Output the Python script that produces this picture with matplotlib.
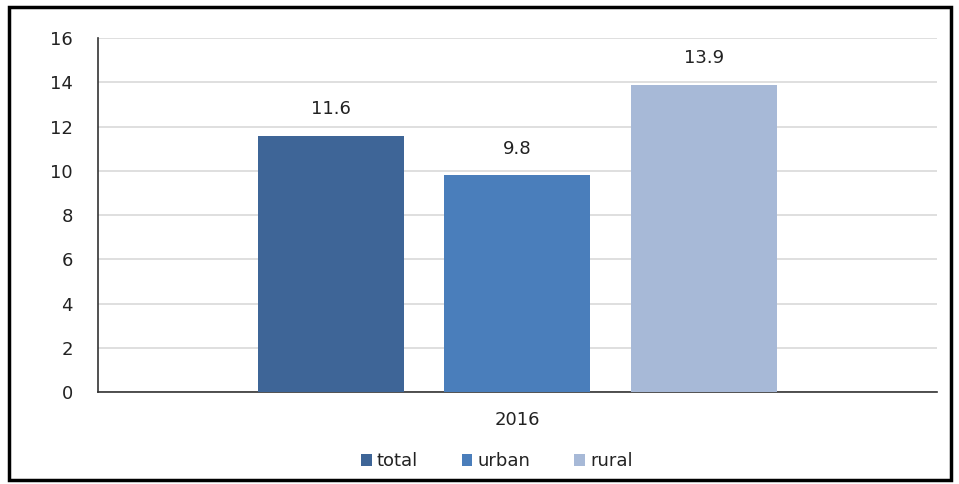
import matplotlib
matplotlib.use("Agg")
import matplotlib.pyplot as plt
from matplotlib.patches import Rectangle

# data
years = ["2016"]
series = ["total", "urban", "rural"]
values = [11.6, 9.8, 13.9]
colors = ["#3E6597", "#4A7EBB", "#A7B9D7"]
yticks = [0, 2, 4, 6, 8, 10, 12, 14, 16]

plt.rcParams['font.family'] = ['DejaVu Sans']

fig = plt.figure(figsize=(9.59, 4.84), dpi=100)
ax = fig.add_axes([0.102, 0.19, 0.875, 0.731])

width = 0.174
step = 0.222
for i, (name, v, c) in enumerate(zip(series, values, colors)):
    xpos = (i - 1) * step
    ax.bar(xpos, v, width=width, color=c, label=name, zorder=3)
    ax.text(xpos, v + 0.8, "%.1f" % v, ha='center', va='bottom', fontsize=13, color="#222222")

ax.set_xlim(-0.5, 0.5)
ax.set_ylim(0, 16)
ax.set_yticks(yticks)
ax.set_yticklabels([str(t) for t in yticks], fontsize=13, color="#222222")
ax.set_xticks([0])
ax.set_xticklabels(years, fontsize=13, color="#222222")
ax.tick_params(axis='y', length=0, pad=18)
ax.tick_params(axis='x', length=0, pad=14)
ax.grid(axis='y', color="#D9D9D9", linewidth=1.2, zorder=0)
ax.spines['top'].set_visible(False)
ax.spines['right'].set_visible(False)
ax.spines['left'].set_color("#333333")
ax.spines['bottom'].set_color("#333333")
ax.spines['left'].set_linewidth(1.2)
ax.spines['bottom'].set_linewidth(1.2)

leg = fig.legend(loc='center', bbox_to_anchor=(0.518, 0.047), ncol=3, frameon=False,
                 fontsize=13, handlelength=0.6, handleheight=0.6, handletextpad=0.3,
                 columnspacing=2.4)
for t in leg.get_texts():
    t.set_color("#222222")

# frame around the whole picture
fig.patches.append(Rectangle((0.009, 0.008), 0.983, 0.977, transform=fig.transFigure,
                             fill=False, edgecolor='black', linewidth=2.5))

fig.savefig("out.png", dpi=100)
